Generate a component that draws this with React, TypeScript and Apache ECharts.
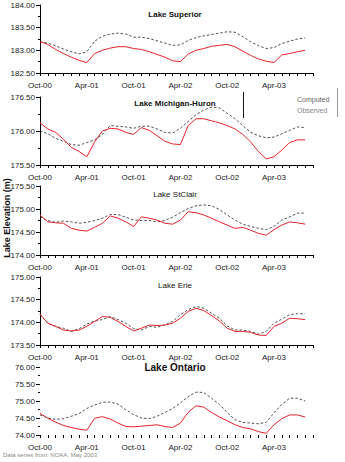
import React, { useEffect, useRef } from "react";
import * as echarts from "echarts";

const monthLabels = ["Oct-00", "Apr-01", "Oct-01", "Apr-02", "Oct-02", "Apr-03"];

const superiorComputed = [183.19, 183.16, 183.1, 183.03, 182.97, 182.92, 182.97, 183.2, 183.31, 183.36, 183.38, 183.36, 183.29, 183.29, 183.26, 183.21, 183.16, 183.11, 183.12, 183.22, 183.28, 183.32, 183.35, 183.38, 183.41, 183.4, 183.3, 183.19, 183.1, 183.04, 183.06, 183.15, 183.2, 183.25, 183.27];
const superiorObserved = [183.19, 183.13, 183.02, 182.93, 182.85, 182.78, 182.73, 182.93, 183.0, 183.05, 183.08, 183.08, 183.04, 183.02, 182.97, 182.91, 182.85, 182.77, 182.75, 182.92, 183.0, 183.04, 183.09, 183.11, 183.13, 183.08, 182.98, 182.89, 182.81, 182.76, 182.73, 182.9, 182.93, 182.97, 183.0];

const michHuronComputed = [176.0, 175.96, 175.89, 175.85, 175.8, 175.79, 175.83, 175.87, 175.95, 176.08, 176.07, 176.06, 176.04, 176.07, 176.07, 176.03, 175.98, 175.97, 176.04, 176.14, 176.24, 176.31, 176.35, 176.34, 176.26, 176.18, 176.08, 175.98, 175.93, 175.9, 175.91, 175.96, 176.01, 176.06, 176.05];
const michHuronObserved = [176.12, 176.03, 175.98, 175.88, 175.76, 175.7, 175.62, 175.84, 176.0, 176.04, 176.03, 175.98, 175.95, 176.05, 176.01, 175.93, 175.85, 175.81, 175.8, 176.08, 176.18, 176.18, 176.15, 176.12, 176.08, 176.03, 175.95, 175.84, 175.7, 175.59, 175.62, 175.72, 175.83, 175.87, 175.87];

const stClairComputed = [174.83, 174.75, 174.71, 174.74, 174.72, 174.69, 174.71, 174.75, 174.8, 174.88, 174.88, 174.82, 174.76, 174.75, 174.75, 174.72, 174.75, 174.82, 174.92, 175.01, 175.07, 175.09, 175.07, 174.99, 174.87, 174.76, 174.67, 174.62, 174.58, 174.55, 174.62, 174.76, 174.83, 174.91, 174.91];
const stClairObserved = [174.87, 174.72, 174.7, 174.69, 174.58, 174.54, 174.52, 174.6, 174.69, 174.85, 174.8, 174.72, 174.62, 174.83, 174.8, 174.76, 174.69, 174.67, 174.76, 174.94, 174.92, 174.87, 174.8, 174.72, 174.65, 174.58, 174.6, 174.54, 174.47, 174.43, 174.55, 174.65, 174.72, 174.7, 174.67];

const erieComputed = [174.17, 173.98, 173.91, 173.87, 173.8, 173.86, 173.96, 174.03, 174.06, 174.13, 174.06, 173.98, 173.86, 173.83, 173.91, 173.89, 173.94, 174.02, 174.17, 174.28, 174.35, 174.31, 174.2, 174.09, 173.92, 173.83, 173.83, 173.8, 173.74, 173.8, 173.98, 174.07, 174.17, 174.19, 174.19];
const erieObserved = [174.18, 173.98, 173.91, 173.83, 173.81, 173.83, 173.91, 174.02, 174.13, 174.11, 174.02, 173.91, 173.81, 173.87, 173.94, 173.93, 173.94, 173.98, 174.09, 174.24, 174.31, 174.26, 174.15, 174.03, 173.87, 173.8, 173.8, 173.78, 173.72, 173.71, 173.91, 173.98, 174.09, 174.08, 174.06];

const ontarioComputed = [74.59, 74.5, 74.46, 74.48, 74.55, 74.63, 74.78, 74.88, 74.96, 74.97, 74.91, 74.74, 74.6, 74.5, 74.48, 74.55, 74.66, 74.78, 74.94, 75.13, 75.26, 75.25, 75.08, 74.9, 74.66, 74.45, 74.37, 74.35, 74.33, 74.37, 74.65, 74.9, 75.08, 75.08, 75.0];
const ontarioObserved = [74.64, 74.49, 74.38, 74.28, 74.22, 74.17, 74.14, 74.49, 74.54, 74.47, 74.35, 74.25, 74.24, 74.26, 74.28, 74.3, 74.25, 74.22, 74.35, 74.67, 74.86, 74.82, 74.66, 74.53, 74.42, 74.3, 74.22, 74.18, 74.1, 74.05, 74.3, 74.48, 74.59, 74.59, 74.53];

const panels = [
  { name: "Lake Superior", computed: superiorComputed, observed: superiorObserved, min: 182.5, max: 184, top: 5, height: 68, bold: true, titleY: 14, titleSize: 8, hideAxisLine: false },
  { name: "Lake Michigan-Huron", computed: michHuronComputed, observed: michHuronObserved, min: 175.5, max: 176.5, top: 97, height: 68, bold: true, titleY: 103, titleSize: 8, hideAxisLine: false },
  { name: "Lake StClair", computed: stClairComputed, observed: stClairObserved, min: 174, max: 175.5, top: 186, height: 69, bold: false, titleY: 194, titleSize: 8, hideAxisLine: false },
  { name: "Lake Erie", computed: erieComputed, observed: erieObserved, min: 173.5, max: 175, top: 277, height: 68, bold: false, titleY: 285, titleSize: 8, hideAxisLine: false },
  { name: "Lake Ontario", computed: ontarioComputed, observed: ontarioObserved, min: 74, max: 76, top: 367, height: 68, bold: true, titleY: 367, titleSize: 10, hideAxisLine: true },
];

const FONT = "Liberation Sans, Arial, sans-serif";

export default function App() {
  const ref = useRef<HTMLDivElement>(null);
  useEffect(() => {
    document.body.style.margin = "0";
    if (!ref.current) return;
    const chart = echarts.init(ref.current, null, { renderer: "svg" });
    const grids: any[] = [];
    const xAxes: any[] = [];
    const yAxes: any[] = [];
    const series: any[] = [];
    const graphics: any[] = [];
    panels.forEach((p, i) => {
      grids.push({ left: 40, width: 273, top: p.top, height: p.height });
      xAxes.push({
        type: "value",
        gridIndex: i,
        min: 0,
        max: 35,
        interval: 1,
        axisLine: { show: !p.hideAxisLine, lineStyle: { color: "#000", width: 1 } },
        axisTick: { show: true, length: 3, lineStyle: { color: "#000" } },
        splitLine: { show: false },
        axisLabel: {
          fontFamily: FONT,
          fontSize: 8,
          color: "#222",
          margin: 8,
          showMinLabel: true,
          showMaxLabel: true,
          formatter: (v: number) => (v % 6 === 0 && v / 6 < monthLabels.length ? monthLabels[v / 6] : ""),
        },
      });
      yAxes.push({
        type: "value",
        gridIndex: i,
        min: p.min,
        max: p.max,
        interval: 0.5,
        axisLine: { show: !p.hideAxisLine, lineStyle: { color: "#000", width: 1 } },
        axisTick: { show: true, length: 4, lineStyle: { color: "#000" } },
        minorTick: { show: true, splitNumber: 2, length: 2, lineStyle: { color: "#000" } },
        splitLine: { show: false },
        axisLabel: { fontFamily: FONT, fontSize: 8, color: "#222", margin: 5, formatter: (v: number) => v.toFixed(2) },
      });
      series.push({
        type: "line",
        name: "Computed",
        xAxisIndex: i,
        yAxisIndex: i,
        data: p.computed.map((v, k) => [k, v]),
        showSymbol: false,
        lineStyle: { color: "#222", width: 0.8, type: [2.5, 2] },
      });
      series.push({
        type: "line",
        name: "Observed",
        xAxisIndex: i,
        yAxisIndex: i,
        data: p.observed.map((v, k) => [k, v]),
        showSymbol: false,
        lineStyle: { color: "#e8232a", width: 1 },
      });
      graphics.push({
        type: "text",
        x: 175,
        y: p.titleY,
        style: {
          text: p.name,
          fontFamily: FONT,
          fontSize: p.titleSize,
          fontWeight: p.bold ? "bold" : "normal",
          fill: "#111",
          textAlign: "center",
          textVerticalAlign: "middle",
        },
      });
    });
    graphics.push(
      {
        type: "text",
        x: 7,
        y: 218,
        rotation: Math.PI / 2,
        style: { text: "Lake Elevation (m)", fontFamily: FONT, fontSize: 9, fontWeight: "bold", fill: "#111", textAlign: "center", textVerticalAlign: "middle" },
      },
      { type: "text", x: 297, y: 99, style: { text: "Computed", fontFamily: FONT, fontSize: 7, fill: "#666", textVerticalAlign: "middle" } },
      { type: "text", x: 297, y: 110, style: { text: "Observed", fontFamily: FONT, fontSize: 7, fill: "#888", textVerticalAlign: "middle" } },
      { type: "line", shape: { x1: 243.5, y1: 92, x2: 243.5, y2: 118 }, style: { stroke: "#111", lineWidth: 1 } },
      { type: "line", shape: { x1: 337.5, y1: 88, x2: 337.5, y2: 117 }, style: { stroke: "#999", lineWidth: 1 } },
      { type: "text", x: 3, y: 455, style: { text: "Data series from: NOAA, May 2003", fontFamily: FONT, fontSize: 6, fill: "#888", textVerticalAlign: "middle" } }
    );
    chart.setOption({
      animation: false,
      backgroundColor: "#fff",
      grid: grids,
      xAxis: xAxes,
      yAxis: yAxes,
      series,
      graphic: graphics,
    });
    return () => chart.dispose();
  }, []);
  return <div ref={ref} style={{ width: 345, height: 462 }} />;
}
